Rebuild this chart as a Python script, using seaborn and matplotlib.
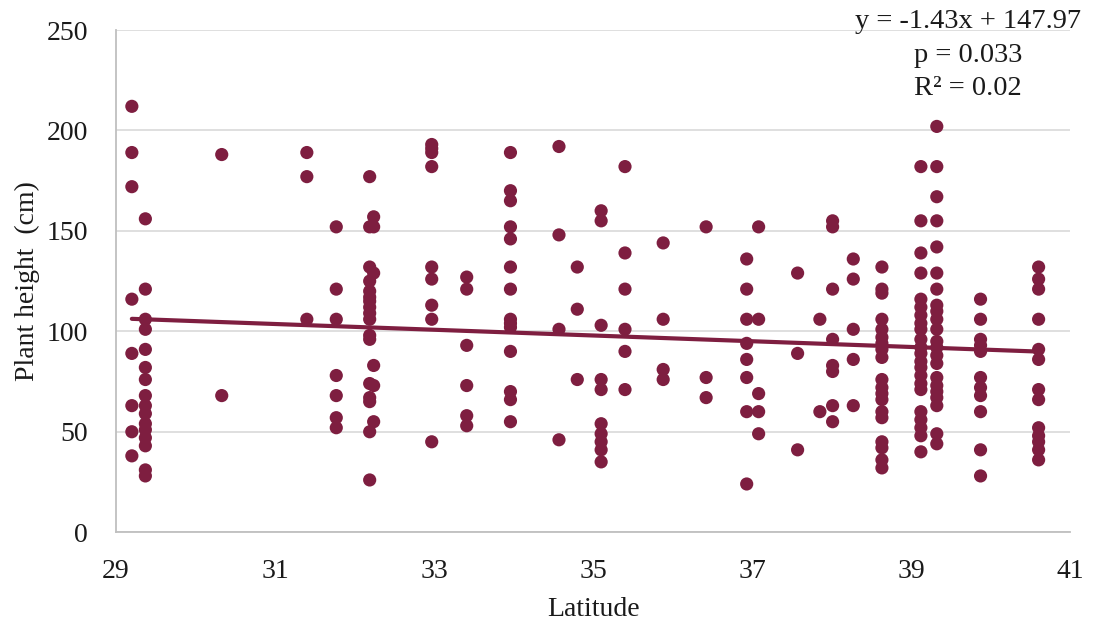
import numpy as np
import pandas as pd
import matplotlib
matplotlib.use("Agg")
import matplotlib.pyplot as plt
import seaborn as sns

# Sampling sites (latitude, degrees N) and plant heights measured at each site (cm)
site_lat = [29.2, 29.37, 30.33, 31.4, 31.77, 32.19, 32.24, 32.97, 33.41, 33.96,
            34.57, 34.8, 35.1, 35.4, 35.88, 36.42, 36.93, 37.08, 37.57, 37.85,
            38.01, 38.27, 38.63, 39.12, 39.32, 39.87, 40.6]

site_heights = [
    [212, 189, 172, 116, 89, 63, 50, 38],
    [156, 121, 106, 101, 91, 82, 76, 68, 63, 59, 54, 51, 47, 43, 31, 28],
    [188, 68],
    [189, 177, 106],
    [152, 121, 106, 78, 68, 57, 52],
    [177, 152, 132, 125, 120, 117, 115, 112, 109, 106, 98, 96, 74, 67, 65, 50, 26],
    [157, 152, 129, 83, 73, 55],
    [193, 191, 189, 182, 132, 126, 113, 106, 45],
    [127, 121, 93, 73, 58, 53],
    [189, 170, 165, 152, 146, 132, 121, 106, 104, 102, 90, 70, 66, 55],
    [192, 148, 101, 46],
    [132, 111, 76],
    [160, 155, 103, 76, 71, 54, 49, 45, 41, 35],
    [182, 139, 121, 101, 90, 71],
    [144, 106, 81, 76],
    [152, 77, 67],
    [136, 121, 106, 94, 86, 77, 60, 24],
    [152, 106, 69, 60, 49],
    [129, 89, 41],
    [106, 60],
    [155, 152, 121, 96, 83, 80, 63, 55],
    [136, 126, 101, 86, 63],
    [132, 121, 119, 106, 101, 97, 94, 91, 87, 76, 72, 69, 66, 60, 57, 45, 42, 36, 32],
    [182, 155, 139, 129, 116, 112, 108, 104, 101, 96, 92, 89, 85, 82, 78, 74, 71, 60, 56, 52, 48, 40],
    [202, 182, 167, 155, 142, 129, 121, 113, 110, 106, 101, 95, 92, 88, 84, 77, 73, 70, 67, 63, 49, 44],
    [116, 106, 96, 93, 90, 77, 72, 68, 60, 41, 28],
    [132, 126, 121, 106, 91, 86, 71, 66, 52, 48, 45, 41, 36],
]

# Linear fit reported for the data
slope = -1.43
intercept = 147.97
p_value = 0.033
r_squared = 0.02

x_ticks = [29, 31, 33, 35, 37, 39, 41]
y_ticks = [0, 50, 100, 150, 200, 250]

df = pd.DataFrame(
    [(lat, h) for lat, hs in zip(site_lat, site_heights) for h in hs],
    columns=["Latitude", "Height"],
)

lat_range = np.array([min(site_lat), max(site_lat)])
fit = pd.DataFrame({"Latitude": lat_range, "Height": slope * lat_range + intercept})

sns.set_theme(style="white")
plt.rcParams["font.family"] = ["Liberation Serif", "DejaVu Serif"]

color = "#7E1E40"
text_color = "#1a1a1a"
fig = plt.figure(figsize=(10.99, 6.25), dpi=100)
ax = fig.add_axes([0.1055, 0.1485, 0.8685, 0.8035])

ax.yaxis.grid(True, color="#D9D9D9", linewidth=1.2)
ax.set_axisbelow(True)

sns.scatterplot(data=df, x="Latitude", y="Height", color=color, s=90,
                edgecolor="none", linewidth=0, ax=ax, zorder=3)
sns.lineplot(data=fit, x="Latitude", y="Height", color=color, linewidth=3,
             ax=ax, zorder=4)

ax.set_xlim(29, 41)
ax.set_ylim(0, 250)
ax.set_xticks(x_ticks)
ax.set_yticks(y_ticks)
ax.tick_params(axis="both", length=0, labelsize=20, colors=text_color)
ax.tick_params(axis="x", pad=19)
ax.tick_params(axis="y", pad=20)

for side in ["top", "right"]:
    ax.spines[side].set_visible(False)
for side in ["left", "bottom"]:
    ax.spines[side].set_color("#BFBFBF")
    ax.spines[side].set_linewidth(1.3)

ax.set_xlabel("Latitude", fontsize=20, color=text_color, labelpad=10)
ax.set_ylabel("Plant height  (cm)", fontsize=20, color=text_color, labelpad=5)

ax.text(39.71, 237.5,
        f"y = {slope:.2f}x + {intercept:.2f}\np = {p_value:.3f}\nR\u00b2 = {r_squared:.2f}",
        ha="center", va="center", fontsize=20.5, color=text_color,
        linespacing=1.45, zorder=5)

fig.savefig("out.png", dpi=100)
